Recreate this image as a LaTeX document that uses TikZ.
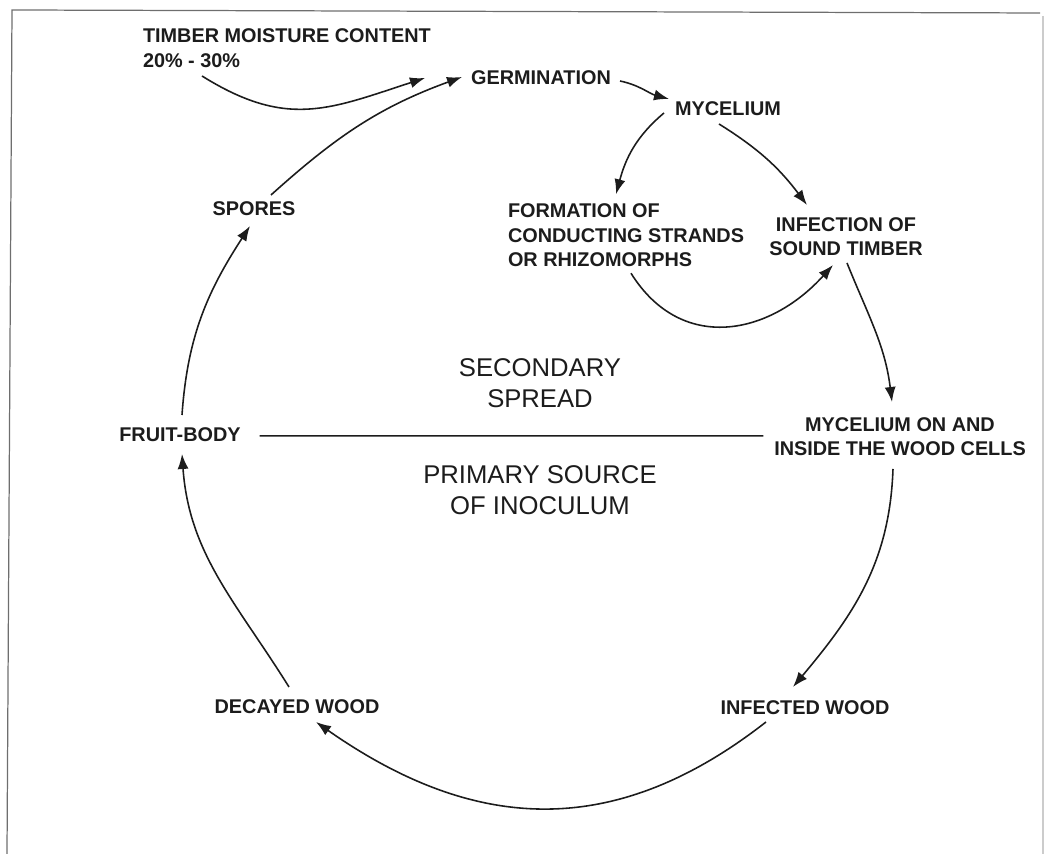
\documentclass[tikz,border=0pt]{standalone}
\usepackage{fontspec}
\setmainfont{Liberation Sans}
\usepackage{tikz}
\usetikzlibrary{arrows.meta, positioning, calc}
\definecolor{cInk}{RGB}{28,28,28}
\definecolor{cFrame}{RGB}{110,110,110}
\tikzset{
    stage/.style     ={font=\bfseries\fontsize{11.3}{13.9}\selectfont, text=cInk, inner sep=0pt, outer sep=0pt, align=center},
    zone/.style      ={font=\fontsize{14.6}{17.4}\selectfont, text=cInk, inner sep=0pt, outer sep=0pt, align=center},
    cyclearrow/.style={-{Latex[length=3mm, width=2.2mm]}, line width=0.9pt, draw=cInk},
    divider/.style   ={line width=0.85pt, draw=cInk},
}
\begin{document}
\begin{tikzpicture}[x=0.02cm, y=0.02cm]
    \useasboundingbox (0,0) rectangle (1049,854);
    \draw[cFrame, line width=0.7pt] (7,0) -- (12,844) -- (1040,841);
    \draw[cFrame!35, line width=0.6pt] (1043,838) -- (1043,0);

    \node[stage, align=left, anchor=west] (timber) at (143,806) {TIMBER MOISTURE CONTENT\\20\% - 30\%};
    \node[stage] (germ)    at (541,776)   {GERMINATION};
    \node[stage] (myc)     at (728,745)   {MYCELIUM};
    \node[stage, align=left, anchor=west] (form) at (508,618.75) {FORMATION OF\\CONDUCTING STRANDS\\OR RHIZOMORPHS};
    \node[stage] (inf)     at (846,617.5) {INFECTION OF\\SOUND TIMBER};
    \node[stage] (spores)  at (254,645)   {SPORES};
    \node[stage] (fruit)   at (180,419.5) {FRUIT-BODY};
    \node[stage] (mycon)   at (900,417.5) {MYCELIUM ON AND\\INSIDE THE WOOD CELLS};
    \node[stage] (infwood) at (805,146)   {INFECTED WOOD};
    \node[stage] (decwood) at (297,147)   {DECAYED WOOD};
    \node[zone]  (sec)     at (540,471)   {SECONDARY\\SPREAD};
    \node[zone]  (prim)    at (540,364)   {PRIMARY SOURCE\\OF INOCULUM};

    \draw[divider] ($(fruit.east)+(19,-1.5)$) -- ($(mycon.west)+(-11,0.5)$);

    \draw[cyclearrow] ($(timber.west)+(59,-28)$) to[out=-32, in=198, looseness=1.15] ($(germ)+(-116,0)$);
    \draw[cyclearrow] ($(spores)+(17,14)$) to[out=42, in=200] ($(germ)+(-79,1)$);
    \draw[cyclearrow] ($(germ)+(79,-3)$) to[out=-12, in=165] ($(myc)+(-59,10)$);
    \draw[cyclearrow] ($(myc)+(-64,-4)$) to[out=220, in=75] ($(form.west)+(108,41)$);
    \draw[cyclearrow] ($(myc)+(-9,-15)$) to[out=-32, in=127] ($(inf)+(-39,31.5)$);
    \draw[cyclearrow] ($(form.west)+(123,-38)$) to[out=-58, in=228, looseness=1.2] ($(inf)+(-13,-28.5)$);
    \draw[cyclearrow] ($(inf)+(1,-26.5)$) to[out=-68, in=97] ($(mycon)+(-8,34.5)$);
    \draw[cyclearrow] ($(mycon)+(-7,-32.5)$) to[out=-92, in=50] ($(infwood)+(-12,21)$);
    \draw[cyclearrow] ($(infwood)+(-39,-14)$) to[out=218, in=-35, looseness=1.1] ($(decwood)+(19,-15)$);
    \draw[cyclearrow] ($(decwood)+(-8,20)$) to[out=122, in=-86] ($(fruit)+(2,-19.5)$);
    \draw[cyclearrow] ($(fruit)+(2,19.5)$) to[out=86, in=237] ($(spores)+(-4,-17)$);
\end{tikzpicture}
\end{document}
